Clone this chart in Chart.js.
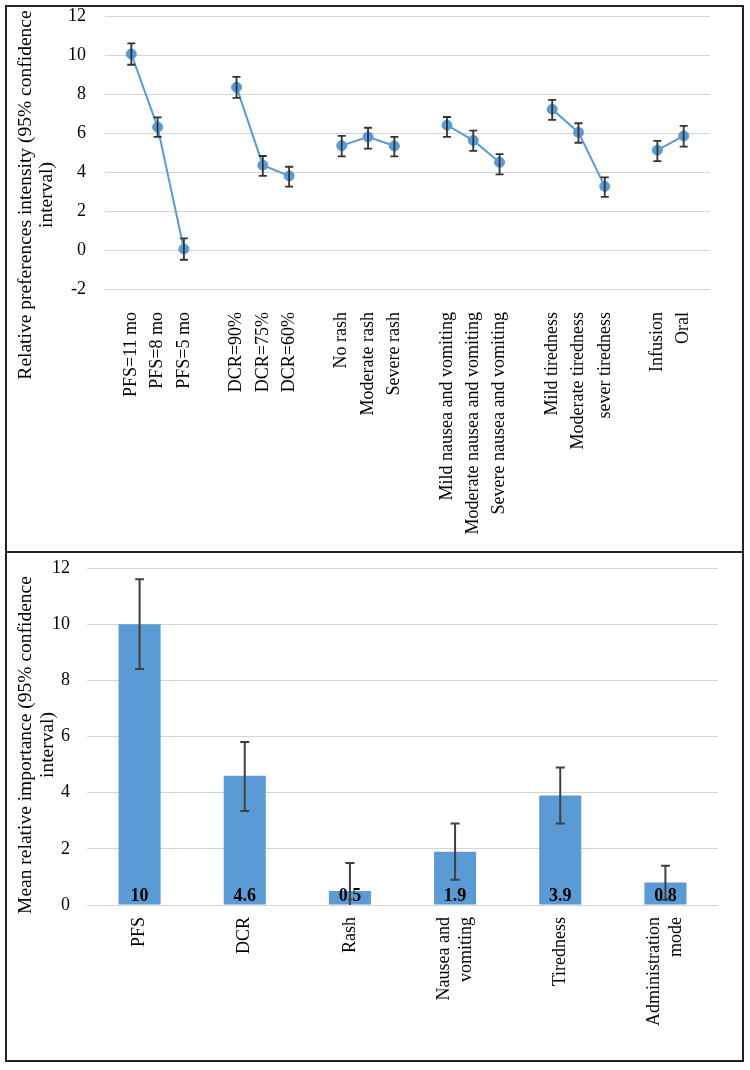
<!DOCTYPE html>
<html lang="en">
<head>
<meta charset="UTF-8">
<title>Preference intensity and relative importance</title>
<script src="https://cdn.jsdelivr.net/npm/chart.js@4.4.1/dist/chart.umd.min.js"></script>
<style>
    body { margin: 0; background: #fff; }
    .panel { position: absolute; box-sizing: border-box; border: 2px solid #222; }
    canvas { position: absolute; }
</style>
</head>
<body>

<div class="panel" style="left:5px;top:5px;width:739px;height:548px"></div>
<div class="panel" style="left:5px;top:551px;width:739px;height:511px"></div>
<canvas id="pref-chart" width="735" height="544" style="left:7px;top:7px"></canvas>
<canvas id="imp-chart" width="735" height="507" style="left:7px;top:553px"></canvas>

<script>
    // top panel: attribute levels ('' = gap between attributes)
    const prefLabels = ['', 'PFS=11 mo', 'PFS=8 mo', 'PFS=5 mo', '',
        'DCR=90%', 'DCR=75%', 'DCR=60%', '',
        'No rash', 'Moderate rash', 'Severe rash', '',
        'Mild nausea and vomiting', 'Moderate nausea and vomiting', 'Severe nausea and vomiting', '',
        'Mild tiredness', 'Moderate tiredness', 'sever tiredness', '',
        'Infusion', 'Oral', ''];
    const prefMean = [null, 10.05, 6.3, 0.05, null, 8.35, 4.35, 3.8, null, 5.35, 5.8, 5.33, null,
        6.4, 5.62, 4.5, null, 7.22, 6.03, 3.26, null, 5.12, 5.85, null];
    const prefLow = [null, 9.5, 5.8, -0.5, null, 7.8, 3.8, 3.25, null, 4.8, 5.2, 4.8, null,
        5.8, 5.08, 3.88, null, 6.67, 5.5, 2.72, null, 4.56, 5.3, null];
    const prefHigh = [null, 10.6, 6.8, 0.6, null, 8.88, 4.82, 4.27, null, 5.85, 6.27, 5.8, null,
        6.82, 6.12, 4.92, null, 7.7, 6.5, 3.72, null, 5.6, 6.37, null];
    const prefTitle = ['Relative preferences intensity (95% confidence', 'interval)'];

    // bottom panel: attributes
    const impLabels = ['PFS', 'DCR', 'Rash', ['Nausea and', 'vomiting'], 'Tiredness', ['Administration', 'mode']];
    const impMean = [10, 4.6, 0.5, 1.9, 3.9, 0.8];
    const impLow = [8.4, 3.35, -0.5, 0.9, 2.9, 0.2];
    const impHigh = [11.6, 5.8, 1.5, 2.9, 4.9, 1.4];
    const impTitle = ['Mean relative importance (95% confidence', 'interval)'];

    const blue = '#5b9bd5';
    const serif = "'Liberation Serif', 'Times New Roman', serif";

    Chart.defaults.font.family = serif;
    Chart.defaults.font.size = 18;
    Chart.defaults.color = '#000';

    const errorBars = {
        id: 'errorBars',
        afterDatasetsDraw(chart, args, opts) {
            const {ctx, chartArea} = chart;
            const yScale = chart.scales.y;
            const meta = chart.getDatasetMeta(0);
            ctx.save();
            ctx.beginPath();
            ctx.rect(chartArea.left, chartArea.top, chartArea.width, chartArea.height);
            ctx.clip();
            ctx.strokeStyle = opts.color;
            ctx.lineWidth = opts.width;
            meta.data.forEach((el, i) => {
                if (opts.low[i] == null) return;
                const x = el.x;
                const y1 = yScale.getPixelForValue(opts.low[i]);
                const y2 = yScale.getPixelForValue(opts.high[i]);
                ctx.beginPath();
                ctx.moveTo(x, y1); ctx.lineTo(x, y2);
                ctx.moveTo(x - opts.cap, y1); ctx.lineTo(x + opts.cap, y1);
                ctx.moveTo(x - opts.cap, y2); ctx.lineTo(x + opts.cap, y2);
                ctx.stroke();
            });
            ctx.restore();
        }
    };

    const barValues = {
        id: 'barValues',
        afterDatasetsDraw(chart) {
            const {ctx} = chart;
            const meta = chart.getDatasetMeta(0);
            const base = chart.scales.y.getPixelForValue(0);
            ctx.save();
            ctx.font = 'bold 18px ' + serif;
            ctx.fillStyle = '#000';
            ctx.textAlign = 'center';
            ctx.textBaseline = 'alphabetic';
            meta.data.forEach((el, i) => {
                ctx.fillText(String(impMean[i]), el.x, base - 4);
            });
            ctx.restore();
        }
    };

    // centre multi-line rotated tick labels on their tick (Chart.js puts the first line there)
    const centerLines = {
        id: 'centerLines',
        beforeDraw(chart) {
            const scale = chart.scales.x;
            scale.getLabelItems().forEach(item => {
                if (Array.isArray(item.label) && item.label.length > 1) {
                    item.options.translation[0] -= (item.label.length - 1) * item.font.lineHeight / 2;
                }
            });
        }
    };

    // rotated two-line axis title
    const sideTitle = {
        id: 'sideTitle',
        afterDraw(chart, args, opts) {
            const {ctx} = chart;
            ctx.save();
            ctx.translate(opts.x, opts.y);
            ctx.rotate(-Math.PI / 2);
            ctx.font = opts.size + 'px ' + serif;
            ctx.fillStyle = '#000';
            ctx.textAlign = 'center';
            ctx.textBaseline = 'middle';
            opts.lines.forEach((line, i) => ctx.fillText(line, 0, i * opts.lineHeight));
            ctx.restore();
        }
    };

    new Chart('pref-chart', {
        type: 'line',
        data: {
            labels: prefLabels,
            datasets: [{
                data: prefMean,
                borderColor: blue,
                backgroundColor: blue,
                borderWidth: 2,
                pointRadius: 5,
                pointBorderWidth: 1,
                pointBackgroundColor: blue,
                pointBorderColor: blue,
                spanGaps: false,
                tension: 0
            }]
        },
        options: {
            responsive: false,
            animation: false,
            devicePixelRatio: 1,
            layout: {padding: {top: 9, right: 32, left: 0, bottom: 0}},
            scales: {
                x: {
                    type: 'category',
                    offset: false,
                    grid: {display: false, drawTicks: true, tickLength: 23},
                    border: {display: false},
                    ticks: {autoSkip: false, maxRotation: 90, minRotation: 90, padding: 0},
                    afterFit: s => { s.height = 262; }
                },
                y: {
                    min: -2,
                    max: 12,
                    ticks: {stepSize: 2, padding: 0, font: {size: 18, lineHeight: 1}},
                    grid: {color: '#d4d4d4', drawTicks: true, tickLength: 19, tickColor: 'rgba(0,0,0,0)'},
                    border: {display: false},
                    afterFit: s => { s.width = 98; }
                }
            },
            plugins: {
                legend: {display: false},
                tooltip: {enabled: false},
                errorBars: {low: prefLow, high: prefHigh, color: '#333', width: 1.8, cap: 4},
                sideTitle: {lines: prefTitle, x: 19, y: 188, lineHeight: 21, size: 19.5}
            }
        },
        plugins: [errorBars, sideTitle]
    });

    new Chart('imp-chart', {
        type: 'bar',
        data: {
            labels: impLabels,
            datasets: [{
                data: impMean,
                backgroundColor: blue,
                categoryPercentage: 1,
                barPercentage: 0.4
            }]
        },
        options: {
            responsive: false,
            animation: false,
            devicePixelRatio: 1,
            layout: {padding: {top: 15, right: 24, left: 0, bottom: 0}},
            scales: {
                x: {
                    grid: {display: false, drawTicks: true, tickLength: 12},
                    border: {display: false},
                    ticks: {autoSkip: false, maxRotation: 90, minRotation: 90, padding: 0},
                    afterFit: s => { s.height = 155; }
                },
                y: {
                    min: 0,
                    max: 12,
                    ticks: {stepSize: 2, padding: 0, font: {size: 18, lineHeight: 1}},
                    grid: {color: '#d4d4d4', drawTicks: true, tickLength: 17, tickColor: 'rgba(0,0,0,0)'},
                    border: {display: false},
                    afterFit: s => { s.width = 80; }
                }
            },
            plugins: {
                legend: {display: false},
                tooltip: {enabled: false},
                errorBars: {low: impLow, high: impHigh, color: '#404040', width: 2, cap: 4.5},
                sideTitle: {lines: impTitle, x: 19, y: 192, lineHeight: 22, size: 19.5}
            }
        },
        plugins: [centerLines, barValues, errorBars, sideTitle]
    });
</script>

</body>
</html>
